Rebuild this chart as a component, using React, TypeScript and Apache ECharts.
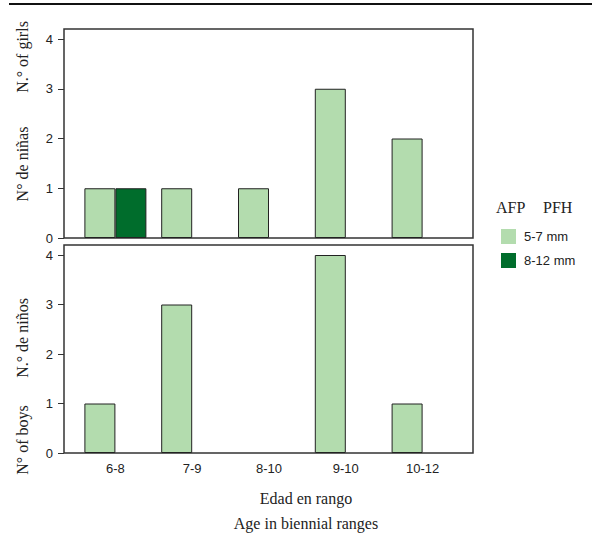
import React, { useEffect, useRef } from "react";
import * as echarts from "echarts";

const categories = ["6-8", "7-9", "8-10", "9-10", "10-12"];
const girls57 = [1, 1, 1, 3, 2];
const girls812 = [1, 0, 0, 0, 0];
const boys57 = [1, 3, 0, 4, 1];
const boys812 = [0, 0, 0, 0, 0];
const seriesNames = ["5-7 mm", "8-12 mm"];
const yTicks = { min: 0, max: 4, interval: 1 };

const LIGHT = "#b3dcae";
const DARK = "#006d2c";
const SERIF = '"Liberation Serif", "Times New Roman", serif';
const SANS = '"Liberation Sans", Arial, sans-serif';
const INK = "#222";

const toBar = (arr: number[]) => arr.map((v) => (v === 0 ? "-" : v));

export default function App() {
  const ref = useRef<HTMLDivElement>(null);
  useEffect(() => {
    if (!ref.current) return;
    const chart = echarts.init(ref.current, undefined, { renderer: "svg" });
    const frameGrid = (top: number, height: number) => ({
      left: 64, top, width: 409, height, show: true,
      borderColor: "#333", borderWidth: 1.5, backgroundColor: "transparent",
    });
    const dataGrid = (top: number, height: number) => ({
      left: 77, top, width: 384, height,
    });
    const hiddenX = (i: number) => ({ gridIndex: i, type: "value", min: 0, max: 1, show: false });
    const hiddenY = (i: number) => ({ gridIndex: i, type: "value", min: 0, max: 1, show: false });
    const catX = (i: number, labels: boolean) => ({
      gridIndex: i, type: "category", data: categories,
      axisLine: { show: false }, axisTick: { show: false },
      axisLabel: { show: labels, margin: 9, fontSize: 13, color: INK, fontFamily: SANS },
    });
    const valY = (i: number) => ({
      gridIndex: i, type: "value", ...yTicks, offset: 13,
      axisLine: { show: false },
      axisTick: { show: true, length: 6, lineStyle: { color: "#333", width: 1 } },
      axisLabel: { margin: 11, fontSize: 13, color: INK, fontFamily: SANS },
      splitLine: { show: false },
    });
    const barStyle = (color: string) => ({ color, borderColor: INK, borderWidth: 1 });
    const bar = (name: string, data: number[], idx: number, color: string) => ({
      name, type: "bar", xAxisIndex: idx, yAxisIndex: idx, data: toBar(data),
      barWidth: 31, barGap: "0%", itemStyle: barStyle(color),
    });
    const vText = (text: string, x: number, y: number) => ({
      type: "text", x, y, rotation: Math.PI / 2,
      style: {
        text, font: `16px ${SERIF}`, fill: INK,
        align: "center", verticalAlign: "middle",
        textAlign: "center", textVerticalAlign: "middle",
      },
    });
    const hText = (text: string, x: number, y: number, align = "center") => ({
      type: "text", x, y,
      style: {
        text, font: `16px ${SERIF}`, fill: INK,
        align, verticalAlign: "middle",
        textAlign: align, textVerticalAlign: "middle",
      },
    });
    chart.setOption({
      animation: false,
      grid: [frameGrid(29, 209), dataGrid(39, 199), frameGrid(245, 208), dataGrid(255, 198)],
      xAxis: [hiddenX(0), catX(1, false), hiddenX(2), catX(3, true)],
      yAxis: [hiddenY(0), valY(1), hiddenY(2), valY(3)],
      legend: {
        data: seriesNames, orient: "vertical", left: 496, top: 224,
        itemWidth: 15, itemHeight: 15, itemGap: 9, icon: "rect",
        itemStyle: { borderWidth: 0 },
        textStyle: { fontSize: 13, color: INK, fontFamily: SANS, padding: [0, 0, 0, 3] },
      },
      series: [
        bar(seriesNames[0], girls57, 1, LIGHT),
        bar(seriesNames[1], girls812, 1, DARK),
        bar(seriesNames[0], boys57, 3, LIGHT),
        bar(seriesNames[1], boys812, 3, DARK),
      ],
      graphic: [
        { type: "line", shape: { x1: 9, y1: 4, x2: 592, y2: 4 }, style: { stroke: "#111", lineWidth: 2 } },
        vText("N.° of girls", 22, 57),
        vText("N° de niñas", 22, 164),
        vText("N.° de niños", 22, 338),
        vText("N° of boys", 22, 440),
        hText("Edad en rango", 306, 498),
        hText("Age in biennial ranges", 306, 523),
        hText("AFP", 496, 207, "left"),
        hText("PFH", 543, 207, "left"),
      ],
    });
    return () => chart.dispose();
  }, []);
  return (
    <div
      ref={ref}
      style={{ position: "fixed", left: 0, top: 0, width: 592, height: 533, background: "#fff" }}
    />
  );
}
